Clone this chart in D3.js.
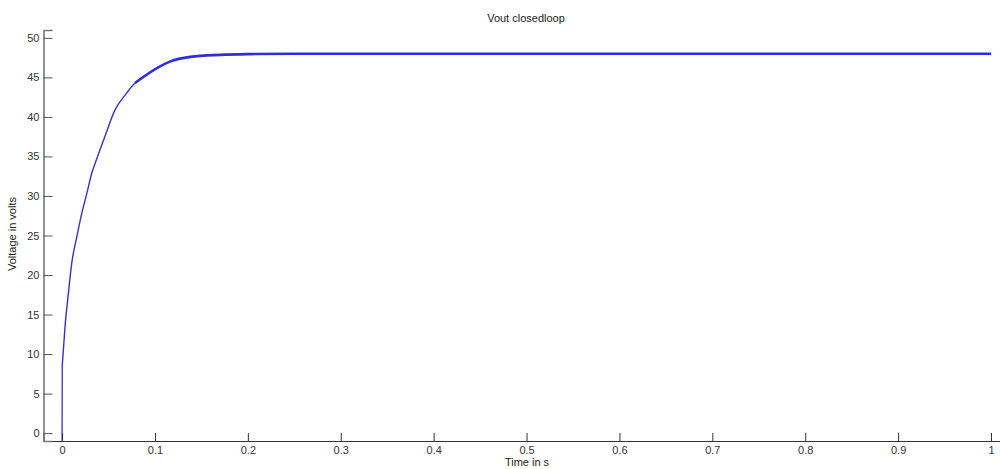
<!DOCTYPE html>
<html>
<head>
<meta charset="utf-8">
<script src="https://cdn.jsdelivr.net/npm/d3@7"></script>
<style>
  body { margin: 0; background: #fff; }
  text { font-family: "Liberation Sans", Arial, sans-serif; }
</style>
</head>
<body>
<script>
// values
var timeS = [0, 0, 0.0002, 0.0032, 0.0068, 0.0104, 0.0158, 0.0212, 0.0266, 0.032,
             0.0355, 0.046, 0.057, 0.068, 0.0786, 0.093, 0.104, 0.116, 0.138,
             0.17, 0.202, 0.25, 0.3, 0.4, 0.5, 0.6, 0.7, 0.8, 0.9, 1.0]
var voltage = [-1, 0, 8.6, 13.5, 17.7, 21.5, 24.8, 27.8, 30.3, 32.9,
               34.1, 37.5, 40.9, 42.8, 44.3, 45.5, 46.3, 47.0, 47.6,
               47.85, 47.95, 48.0, 48.0, 48.0, 48.0, 48.0, 48.0, 48.0, 48.0, 48.0]
var xTicks = [0, 0.1, 0.2, 0.3, 0.4, 0.5, 0.6, 0.7, 0.8, 0.9, 1]
var yTicks = [0, 5, 10, 15, 20, 25, 30, 35, 40, 45, 50]

var width = 1000
var height = 469

var svgContainer = d3.select("body")
                     .append("svg")
                     .attr("width", width)
                     .attr("height", height)

var x = d3.scaleLinear().domain([-0.02, 1.01]).range([43.5, 1000.3])
var y = d3.scaleLinear().domain([-1, 51]).range([441, 30])

// the curve
var lineData = []
for (var i = 0; i < timeS.length; i++) {
  lineData.push({"t": timeS[i], "v": voltage[i]})
}

var stepLine = d3.line()
                 .x(function(d) { return x(d.t); })
                 .y(function(d) { return y(d.v); })

var smoothLine = d3.line()
                   .x(function(d) { return x(d.t); })
                   .y(function(d) { return y(d.v); })
                   .curve(d3.curveMonotoneX)

// jump at t = 0
svgContainer.append("path")
            .attr("d", stepLine(lineData.slice(0, 3)))
            .attr("stroke", "#3333cc")
            .attr("stroke-width", 1.3)
            .attr("fill", "none")

// rise
svgContainer.append("path")
            .attr("d", smoothLine(lineData.slice(2, 16)))
            .attr("stroke", "#3333cc")
            .attr("stroke-width", 1.4)
            .attr("fill", "none")

// settled part looks like a noisy band, a bit thicker
svgContainer.append("path")
            .attr("d", smoothLine(lineData.slice(14)))
            .attr("stroke", "#2e2ed8")
            .attr("stroke-width", 2.6)
            .attr("fill", "none")

// axes
var xAxis = d3.axisBottom(x)
              .tickValues(xTicks)
              .tickSize(-8)
              .tickPadding(5)
              .tickFormat(function(d) { return d; })

var yAxis = d3.axisLeft(y)
              .tickValues(yTicks)
              .tickSize(-9)
              .tickPadding(4)

var gx = svgContainer.append("g")
                     .attr("transform", "translate(0," + y(-1) + ")")
                     .call(xAxis)
var gy = svgContainer.append("g")
                     .attr("transform", "translate(" + x(-0.02) + ",0)")
                     .call(yAxis)

gx.select(".domain").attr("stroke", "#333").attr("stroke-width", 1.2)
gy.select(".domain").attr("stroke", "#777").attr("stroke-width", 1.6)
gx.selectAll(".tick line").attr("stroke", "#333")
gy.selectAll(".tick line").attr("stroke", "#555")
svgContainer.selectAll(".tick text")
            .attr("font-size", 11)
            .attr("font-family", "Liberation Sans, Arial, sans-serif")
            .attr("fill", "#333")

// labels
svgContainer.append("text")
            .attr("x", 526)
            .attr("y", 22)
            .attr("text-anchor", "middle")
            .attr("font-size", 11)
            .attr("fill", "#222")
            .text("Vout closedloop")

svgContainer.append("text")
            .attr("x", 527)
            .attr("y", 466)
            .attr("text-anchor", "middle")
            .attr("font-size", 11)
            .attr("fill", "#222")
            .text("Time in s")

svgContainer.append("text")
            .attr("transform", "translate(16,234) rotate(-90)")
            .attr("text-anchor", "middle")
            .attr("font-size", 11)
            .attr("fill", "#222")
            .text("Voltage in volts")
</script>
</body>
</html>
